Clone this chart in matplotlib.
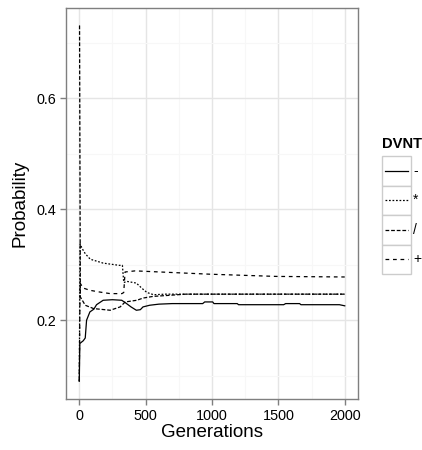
import matplotlib
matplotlib.use("Agg")
import matplotlib.pyplot as plt
from matplotlib.patches import Rectangle

plt.rcParams["font.family"] = ["Liberation Sans", "DejaVu Sans"]

# generation / probability pairs
gen_solid = [0, 4, 30, 45, 55, 80, 110, 130, 180, 250, 320, 345, 390, 430, 460,
             480, 530, 600, 700, 930, 945, 1005, 1015, 1190, 1200, 1540, 1555,
             1660, 1670, 1960, 2000]
p_solid = [0.09, 0.158, 0.163, 0.168, 0.2, 0.215, 0.22, 0.228, 0.236, 0.237,
           0.236, 0.232, 0.224, 0.218, 0.219, 0.224, 0.227, 0.229, 0.23, 0.23,
           0.233, 0.233, 0.23, 0.23, 0.228, 0.228, 0.23, 0.23, 0.228, 0.228, 0.226]

gen_star = [0, 6, 20, 45, 83, 180, 300, 325, 335, 360, 430, 470, 510, 560, 650, 2000]
p_star = [0.09, 0.338, 0.33, 0.32, 0.31, 0.303, 0.299, 0.299, 0.268, 0.27,
          0.267, 0.258, 0.25, 0.246, 0.247, 0.247]

gen_slash = [0, 2, 8, 45, 108, 233, 308, 346, 434, 481, 557, 684, 800, 2000]
p_slash = [0.731, 0.731, 0.242, 0.227, 0.221, 0.218, 0.224, 0.233, 0.236,
           0.24, 0.243, 0.245, 0.247, 0.247]

gen_plus = [0, 6, 30, 80, 150, 233, 321, 335, 345, 421, 609, 985, 1486, 2000]
p_plus = [0.09, 0.267, 0.258, 0.254, 0.251, 0.248, 0.248, 0.25, 0.287, 0.289,
          0.287, 0.283, 0.279, 0.278]

labels = ["-", "*", "/", "+"]
dashes = [None, (1.4, 1.4), (3.0, 1.5), (3.0, 3.0)]
series = [(gen_solid, p_solid), (gen_star, p_star),
          (gen_slash, p_slash), (gen_plus, p_plus)]

fig = plt.figure(figsize=(4.22, 4.5), dpi=100)
ax = fig.add_axes([66 / 422, 1 - 399 / 450, 292 / 422, 391 / 450])

for (g, p), d in zip(series, dashes):
    line, = ax.plot(g, p, color="black", lw=0.9)
    if d is not None:
        line.set_dashes(d)

ax.set_xlim(-100, 2100)
ymin = min(min(p) for _, p in series)
ymax = max(max(p) for _, p in series)
pad = (ymax - ymin) * 0.05
ax.set_ylim(ymin - pad, ymax + pad)

ax.set_xticks([0, 500, 1000, 1500, 2000])
ax.set_xticks([250, 750, 1250, 1750], minor=True)
ax.set_yticks([0.2, 0.4, 0.6])
ax.set_yticks([0.1, 0.3, 0.5, 0.7], minor=True)
ax.set_yticklabels(["0.2", "0.4", "0.6"])
ax.grid(which="major", color="#e5e5e5", lw=1.0)
ax.grid(which="minor", color="#f7f7f7", lw=0.8)
ax.set_axisbelow(True)
for s in ax.spines.values():
    s.set_color("#7f7f7f")
    s.set_linewidth(1.0)
ax.tick_params(which="major", length=4, width=1, color="#7f7f7f",
               labelsize=10.4, labelcolor="black", pad=3)
ax.tick_params(which="minor", length=0)
ax.set_xlabel("Generations", fontsize=13.5, labelpad=1)
ax.set_ylabel("Probability", fontsize=13.5, labelpad=6)

# legend drawn by hand, ggplot style
lax = fig.add_axes([382 / 422, 1 - 274 / 450, 29 / 422, 118 / 450])
lax.set_xlim(0, 1)
lax.set_ylim(0, len(labels))
lax.axis("off")
for i, (lab, d) in enumerate(zip(labels, dashes)):
    y0 = len(labels) - 1 - i
    lax.add_patch(Rectangle((0, y0), 1, 1, facecolor="white",
                            edgecolor="#cccccc", lw=1, clip_on=False))
    line, = lax.plot([0.12, 0.88], [y0 + 0.5, y0 + 0.5], color="black", lw=0.9)
    if d is not None:
        line.set_dashes(d)
    lax.text(1.08, y0 + 0.5, lab, fontsize=10.0, va="center", ha="left")
lax.text(0.0, len(labels) + 0.18, "DVNT", fontsize=10.6, fontweight="bold",
         va="bottom", ha="left")

fig.savefig("out.png", dpi=100)
